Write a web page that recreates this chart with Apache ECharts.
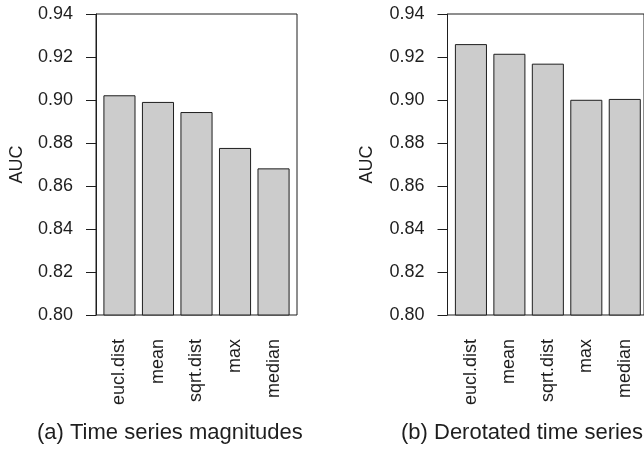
<!DOCTYPE html>
<html>
<head>
<meta charset="utf-8">
<script src="https://cdn.jsdelivr.net/npm/echarts@6/dist/echarts.min.js"></script>
<style>
  html, body { margin: 0; padding: 0; background: #ffffff; }
  #chart { width: 644px; height: 450px; }
</style>
</head>
<body>
<div id="chart"></div>
<script>
// Method names shared by both panels
const categories = ['eucl.dist', 'mean', 'sqrt.dist', 'max', 'median'];
// AUC per method, panel (a): time series magnitudes
const magnitudeAUC = [0.9022, 0.8991, 0.8944, 0.8777, 0.8682];
// AUC per method, panel (b): derotated time series
const derotatedAUC = [0.9260, 0.9215, 0.9169, 0.9001, 0.9005];
// Value axis range and tick step
const yMin = 0.80;
const yMax = 0.94;
const yStep = 0.02;
const captions = ['(a) Time series magnitudes', '(b) Derotated time series'];

const FONT = '"Liberation Sans", Arial, Helvetica, sans-serif';
const INK = '#1e1e1e';

// Panel frame geometry (box and bar band area inside it)
const panels = [
  { boxLeft: 96, data: magnitudeAUC, caption: captions[0], captionLeft: 37, nameGap: 70 },
  { boxLeft: 447.5, data: derotatedAUC, caption: captions[1], captionLeft: 401, nameGap: 71 }
];
const TOP = 14, HEIGHT = 301, BOX_W = 201;
// bars sit in a band area inset from the box, like base R barplot spacing
const INSET = 4.2, BAND_W = 192.6;

const grid = [], xAxis = [], yAxis = [], series = [], title = [];

panels.forEach(function (p) {
  const outer = grid.length;
  grid.push({
    left: p.boxLeft, top: TOP, width: BOX_W, height: HEIGHT,
    show: true, borderColor: INK, borderWidth: 1, backgroundColor: 'transparent'
  });
  grid.push({
    left: p.boxLeft + INSET, top: TOP, width: BAND_W, height: HEIGHT
  });

  // frame grid: hidden category axis, visible value axis
  xAxis.push({ gridIndex: outer, type: 'category', data: categories, show: false });
  yAxis.push({
    gridIndex: outer, type: 'value', min: yMin, max: yMax, interval: yStep,
    name: 'AUC', nameLocation: 'middle', nameGap: p.nameGap, nameRotate: 90,
    nameTextStyle: { color: INK, fontSize: 18, fontFamily: FONT },
    axisLine: { show: true, lineStyle: { color: INK, width: 1 } },
    axisTick: { show: true, length: 10, inside: false, lineStyle: { color: INK, width: 1 } },
    axisLabel: {
      color: INK, fontSize: 18, fontFamily: FONT, margin: 23,
      formatter: function (v) { return v.toFixed(2); }
    },
    splitLine: { show: false }
  });

  // bar grid: labelled category axis, hidden value axis
  xAxis.push({
    gridIndex: outer + 1, type: 'category', data: categories, boundaryGap: true,
    axisLine: { show: false }, axisTick: { show: false },
    axisLabel: {
      rotate: 90, margin: 24, interval: 0,
      color: INK, fontSize: 18, fontFamily: FONT
    }
  });
  yAxis.push({
    gridIndex: outer + 1, type: 'value', min: yMin, max: yMax, interval: yStep,
    show: false, splitLine: { show: false }
  });

  series.push({
    type: 'bar',
    xAxisIndex: outer + 1, yAxisIndex: outer + 1,
    data: p.data,
    barCategoryGap: '16.67%',
    itemStyle: { color: '#cccccc', borderColor: INK, borderWidth: 1 },
    silent: true
  });

  title.push({
    text: p.caption, left: p.captionLeft, top: 422,
    textStyle: { color: INK, fontSize: 22, fontWeight: 'normal', fontFamily: FONT },
    padding: 0
  });
});

const chart = echarts.init(document.getElementById('chart'), null, { renderer: 'canvas' });
chart.setOption({
  animation: false,
  backgroundColor: '#ffffff',
  title: title,
  grid: grid,
  xAxis: xAxis,
  yAxis: yAxis,
  series: series
});
</script>
</body>
</html>
